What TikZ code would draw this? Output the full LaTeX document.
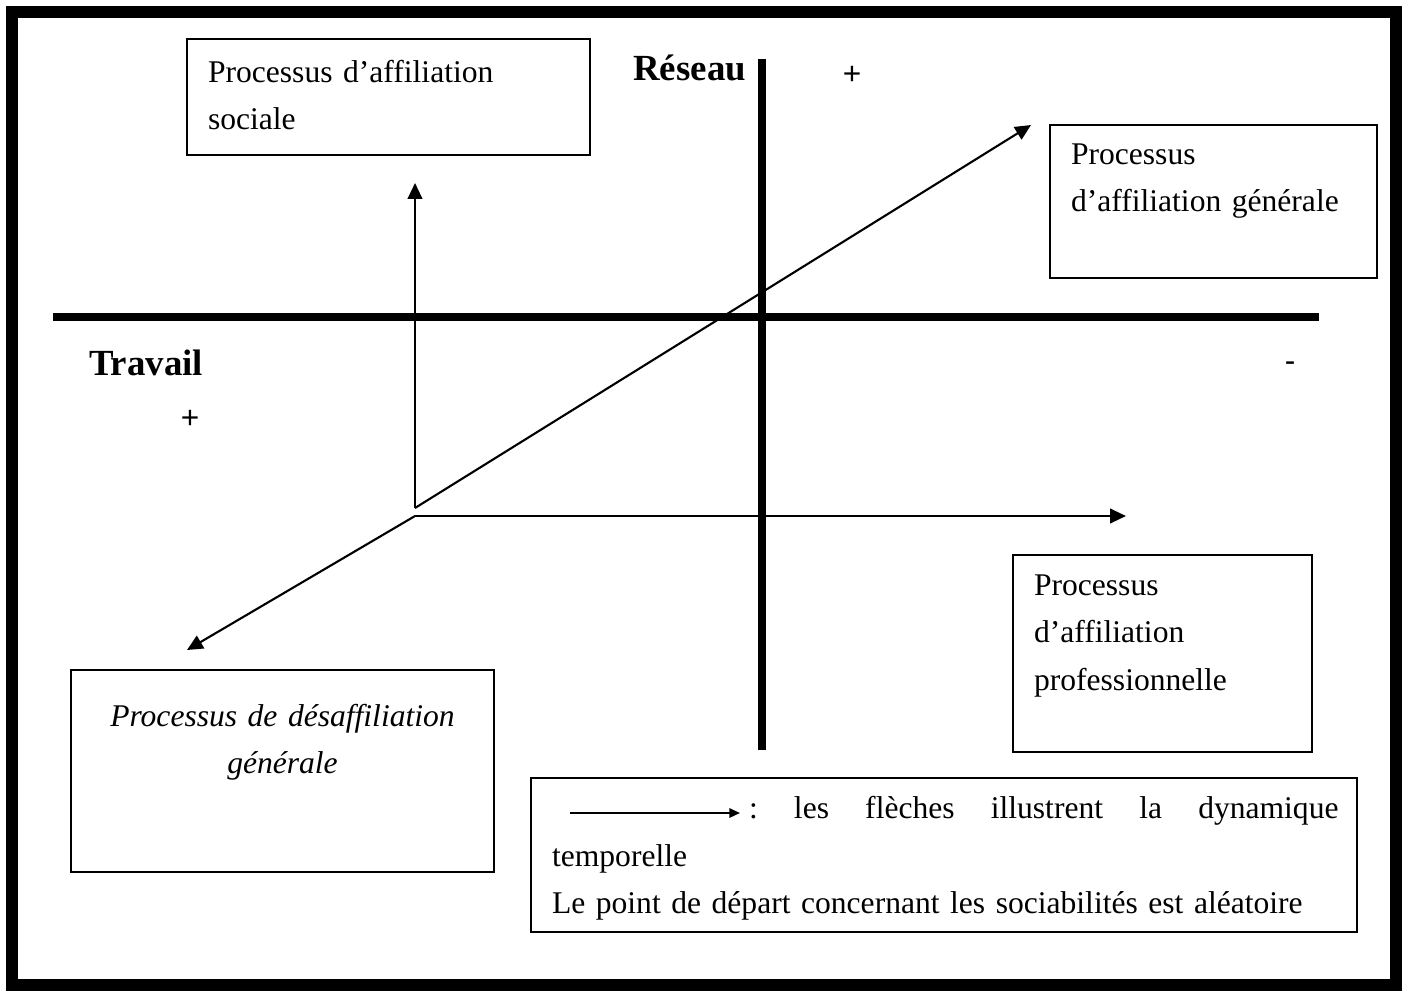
\documentclass[tikz,border=0pt]{standalone}
\usepackage{fontspec}
\setmainfont{Liberation Serif}
\newfontfamily\signfont{Liberation Sans}
\usetikzlibrary{arrows.meta, fit}
\frenchspacing

\begin{document}
\begin{tikzpicture}[x=0.38pt, y=-0.38pt, >={Triangle[length=6pt, width=5.5pt]},
                    line width=0.8pt, font=\fontsize{12pt}{18.2pt}\selectfont]
  \tikzstyle{box}=[draw=black, inner sep=0pt]
  \tikzstyle{txt}=[inner sep=0pt, anchor=base west, align=left]
  \tikzstyle{axis}=[line width=3.4pt]
  \tikzstyle{title}=[inner sep=0pt, font=\fontsize{14pt}{16pt}\selectfont\bfseries]
  \tikzstyle{sign}=[inner sep=0pt, font=\fontsize{12pt}{14pt}\selectfont\signfont]

  \useasboundingbox (0,0) rectangle (1409,992);
  \draw[line width=4.2pt] (12,12) rectangle (1396,985);

  \node[box, fit={(187,39) (590,155)}]   (soc) {};
  \node[box, fit={(1050,125) (1377,278)}] (gen) {};
  \node[box, fit={(1013,555) (1312,752)}] (pro) {};
  \node[box, fit={(71,670) (494,872)}]    (des) {};
  \node[box, fit={(531,778) (1357,932)}]  (leg) {};

  \node[txt, text width=138pt] (soctxt) at (207,82)   {Processus d’affiliation\\sociale};
  \node[txt, text width=118pt] (gentxt) at (1070,164) {Processus\\d’affiliation générale};
  \node[txt, text width=103pt] (protxt) at (1033,595) {Processus\\d’affiliation\\professionnelle};
  \node[txt, anchor=base, align=center, text width=155pt, font=\fontsize{12pt}{18.2pt}\selectfont\itshape]
       (destxt) at (282.5,726) {Processus de désaffiliation\\générale};

  \coordinate (k1) at (570,813);
  \coordinate (k2) at (740,813);
  \draw[-{Triangle[length=4pt, width=3.5pt]}] (k1) -- (k2);
  \node[txt] (legtxt1) at (748,818) {\makebox[224pt][s]{: les flèches illustrent la dynamique}};
  \node[txt, text width=299pt] (legtxt2) at (551,866)
       {temporelle\\Le point de départ concernant les sociabilités est aléatoire};

  \coordinate (xl) at (53,317);
  \coordinate (xr) at (1319,317);
  \coordinate (yt) at (762,59);
  \coordinate (yb) at (762,750);
  \draw[axis] (xl) -- (xr);
  \draw[axis] (yt) -- (yb);

  \node[title, anchor=base east] (reseau)  at (747,80) {Réseau};
  \node[title, anchor=base west] (travail) at (88,375) {Travail};
  \node[sign] (rplus)  at (852,75)  {+};
  \node[sign] (tplus)  at (190,419) {+};
  \node[sign] (tminus) at (1290,367) {-};

  \coordinate (o1) at (415,508);
  \coordinate (o2) at (415,516);
  \coordinate (up) at (415,183);
  \coordinate (ne) at (1031,125);
  \coordinate (ea) at (1126,516);
  \coordinate (sw) at (187,650);

  \draw[->] (o1) -- (up);
  \draw[->] (o1) -- (ne);
  \draw[->] (o2) -- (ea);
  \draw[->] (o2) -- (sw);
\end{tikzpicture}
\end{document}
